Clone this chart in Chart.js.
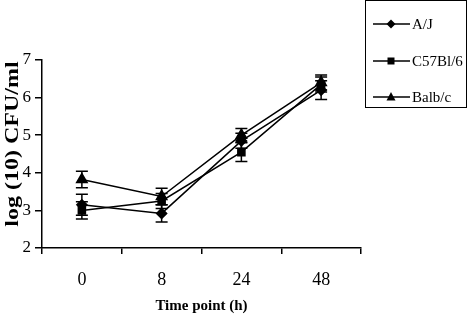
<!DOCTYPE html>
<html>
<head>
<meta charset="utf-8">
<script src="https://cdn.jsdelivr.net/npm/chart.js@4"></script>
<style>
    body { margin: 0; background: #fff; }
    canvas { display: block; }
</style>
</head>
<body>
<canvas id="cfuChart" width="468" height="315"></canvas>
<script>
    var timePoints = ['0', '8', '24', '48'];
    var strainNames = ['A/J', 'C57Bl/6', 'Balb/c'];
    var ajValues = [3.15, 2.92, 4.85, 6.2];
    var ajErrors = [0.28, 0.23, 0.2, 0.25];
    var c57Values = [3.0, 3.25, 4.55, 6.35];
    var c57Errors = [0.23, 0.2, 0.25, 0.2];
    var balbValues = [3.82, 3.37, 5.0, 6.4];
    var balbErrors = [0.22, 0.22, 0.18, 0.2];
    var yTicks = [2, 3, 4, 5, 6, 7];
    var yTitle = 'log (10) CFU/ml';

    var serif = "'Liberation Serif', 'Times New Roman', serif";

    // error bars drawn from each dataset's errors array
    var errorBars = {
        id: 'errorBars',
        afterDatasetsDraw: function (chart) {
            var ctx = chart.ctx;
            var yScale = chart.scales.y;
            ctx.save();
            ctx.strokeStyle = '#000';
            ctx.lineWidth = 1.5;
            chart.data.datasets.forEach(function (ds, i) {
                var meta = chart.getDatasetMeta(i);
                meta.data.forEach(function (pt, j) {
                    var err = ds.errors[j];
                    var top = yScale.getPixelForValue(ds.data[j] + err);
                    var bot = yScale.getPixelForValue(ds.data[j] - err);
                    ctx.beginPath();
                    ctx.moveTo(pt.x, top); ctx.lineTo(pt.x, bot);
                    ctx.moveTo(pt.x - 6, top); ctx.lineTo(pt.x + 6, top);
                    ctx.moveTo(pt.x - 6, bot); ctx.lineTo(pt.x + 6, bot);
                    ctx.stroke();
                });
            });
            ctx.restore();
        }
    };

    // y title, a bit narrower than the plain font like the original
    var yAxisTitle = {
        id: 'yAxisTitle',
        afterDraw: function (chart) {
            var ctx = chart.ctx;
            var area = chart.chartArea;
            ctx.save();
            ctx.translate(13, (area.top + area.bottom) / 2 - 10);
            ctx.rotate(-Math.PI / 2);
            ctx.scale(1, 0.82);
            ctx.fillStyle = '#000';
            ctx.font = 'bold 24px ' + serif;
            ctx.textAlign = 'center';
            ctx.textBaseline = 'middle';
            ctx.fillText(yTitle, 0, 0);
            ctx.restore();
        }
    };

    function marker(ctx, style, x, y) {
        ctx.beginPath();
        if (style === 'rectRot') {
            ctx.moveTo(x, y - 4.5); ctx.lineTo(x + 4.5, y); ctx.lineTo(x, y + 4.5); ctx.lineTo(x - 4.5, y);
        } else if (style === 'rect') {
            ctx.rect(x - 3.5, y - 3.5, 7, 7);
        } else {
            ctx.moveTo(x, y - 5); ctx.lineTo(x + 4.5, y + 3.5); ctx.lineTo(x - 4.5, y + 3.5);
        }
        ctx.closePath();
        ctx.fill();
    }

    // boxed legend at the top right
    var boxLegend = {
        id: 'boxLegend',
        afterDraw: function (chart) {
            var ctx = chart.ctx;
            ctx.save();
            ctx.strokeStyle = '#000';
            ctx.lineWidth = 1;
            ctx.strokeRect(365.5, 0.5, 101, 107);
            ctx.fillStyle = '#000';
            ctx.font = '15px ' + serif;
            ctx.textBaseline = 'middle';
            var rows = [24, 61, 97];
            chart.data.datasets.forEach(function (ds, i) {
                var y = rows[i];
                ctx.lineWidth = 1.5;
                ctx.beginPath();
                ctx.moveTo(373, y); ctx.lineTo(410, y);
                ctx.stroke();
                marker(ctx, ds.pointStyle, 391, y);
                ctx.fillText(ds.label, 412, y + 1);
            });
            ctx.restore();
        }
    };

    function series(label, values, errors, style, radius) {
        return {
            label: label,
            data: values,
            errors: errors,
            borderColor: '#000',
            backgroundColor: '#000',
            borderWidth: 1.5,
            pointStyle: style,
            pointRadius: radius,
            pointBackgroundColor: '#000',
            pointBorderColor: '#000',
            tension: 0
        };
    }

    new Chart(document.getElementById('cfuChart'), {
        type: 'line',
        data: {
            labels: timePoints,
            datasets: [
                series(strainNames[0], ajValues, ajErrors, 'rectRot', 5),
                series(strainNames[1], c57Values, c57Errors, 'rect', 5),
                series(strainNames[2], balbValues, balbErrors, 'triangle', 6)
            ]
        },
        options: {
            responsive: false,
            animation: false,
            devicePixelRatio: 1,
            layout: { padding: { top: 60, right: 107, left: 0, bottom: 0 } },
            plugins: {
                legend: { display: false },
                tooltip: { enabled: false }
            },
            scales: {
                x: {
                    type: 'category',
                    offset: true,
                    border: { color: '#000', width: 1.5 },
                    grid: { offset: true, drawOnChartArea: false, drawTicks: true, tickLength: 6, color: '#000', lineWidth: 1.5 },
                    ticks: { color: '#000', padding: 15, font: { family: serif, size: 18 }, maxRotation: 0 },
                    title: { display: true, text: 'Time point (h)', color: '#000', font: { family: serif, size: 15, weight: 'bold' }, padding: { top: 0, bottom: 0 } },
                    afterFit: function (scale) { scale.height = 67; }
                },
                y: {
                    min: 2,
                    max: 7,
                    afterBuildTicks: function (scale) { scale.ticks = yTicks.map(function (v) { return { value: v }; }); },
                    border: { color: '#000', width: 1.5 },
                    grid: { drawOnChartArea: false, drawTicks: true, tickLength: 7, color: '#000', lineWidth: 1.5 },
                    ticks: { color: '#000', padding: 4, font: { family: serif, size: 17 } },
                    title: { display: false },
                    afterFit: function (scale) { scale.width = 42; }
                }
            }
        },
        plugins: [errorBars, yAxisTitle, boxLegend]
    });
</script>
</body>
</html>
